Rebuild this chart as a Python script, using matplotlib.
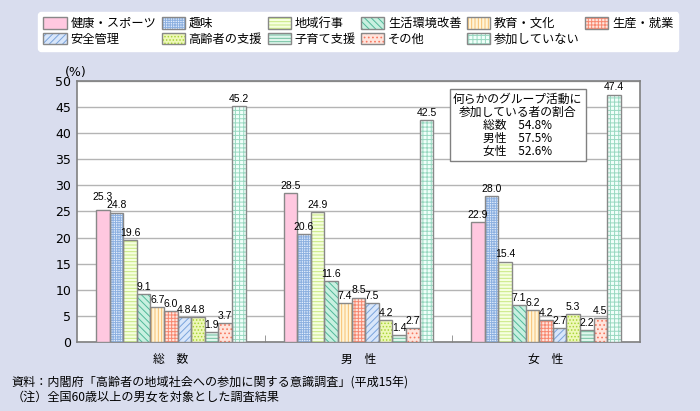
import numpy as np
import matplotlib.pyplot as plt
from matplotlib.patches import Patch
from matplotlib.legend_handler import HandlerTuple

plt.rcParams['font.family'] = ['Noto Sans CJK JP', 'DejaVu Sans']
plt.rcParams['hatch.linewidth'] = 0.7

groups = ['総　数', '男　性', '女　性']
categories = ['健康・スポーツ', '趣味', '地域行事', '生活環境改善', '教育・文化', '生産・就業',
              '安全管理', '高齢者の支援', '子育て支援', 'その他', '参加していない']
total = [25.3, 24.8, 19.6, 9.1, 6.7, 6.0, 4.8, 4.8, 1.9, 3.7, 45.2]
male = [28.5, 20.6, 24.9, 11.6, 7.4, 8.5, 7.5, 4.2, 1.4, 2.7, 42.5]
female = [22.9, 28.0, 15.4, 7.1, 6.2, 4.2, 2.7, 5.3, 2.2, 4.5, 47.4]
values = np.array([total, male, female])

# face colour, hatch colour, hatch pattern per category
faces = ['#ffc8e0', '#e4eefc', '#f6ffe0', '#c8f0e0', '#fff4d8', '#ffe4dc',
         '#d8e6fa', '#eef8b8', '#e0f6ec', '#ffe4dc', '#f0fffa']
hcols = ['#ffc8e0', '#8cb0e0', '#c8e880', '#50b898', '#f8c070', '#f88870',
         '#7aa4dc', '#a8d438', '#70c0a0', '#f87860', '#98d8c0']
hatches = [None, '+' * 7, '-' * 5, '\\' * 5, '|' * 5, '+' * 5, '/' * 5, '.' * 5,
           '-' * 5, '.' * 4, '+' * 4]

bg = '#d9ddee'
fig = plt.figure(figsize=(7, 4.11), dpi=100, facecolor=bg)
ax = fig.add_axes([0.110, 0.168, 0.804, 0.635])
ax.set_facecolor('white')

w = 0.0725
x = np.arange(len(groups))
handles = []
labels = [[] for _ in groups]
for j, cat in enumerate(categories):
    pos = x + (j - 5) * w
    ax.bar(pos, values[:, j], w, color=faces[j], edgecolor=hcols[j], hatch=hatches[j],
           linewidth=0, zorder=3)
    ax.bar(pos, values[:, j], w, fill=False, edgecolor='#888888', linewidth=1, zorder=4)
    for g, (xi, v) in enumerate(zip(pos, values[:, j])):
        t = ax.text(xi, v + 0.4, f'{v:.1f}', ha='center', va='bottom', fontsize=7.5,
                    family='Liberation Sans', zorder=5)
        labels[g].append(t)
    h1 = Patch(facecolor=faces[j], edgecolor=hcols[j], hatch=hatches[j], linewidth=0)
    h2 = Patch(fill=False, edgecolor='#888888', linewidth=1)
    handles.append((h1, h2))

ax.set_xlim(-0.5, 2.5)
ax.set_ylim(0, 50)

# lift a label above its right neighbour when the two clearly collide
fig.canvas.draw()
r = fig.canvas.get_renderer()
for row in labels:
    for a, b in zip(row[:-1], row[1:]):
        ba, bb = a.get_window_extent(r), b.get_window_extent(r)
        ox = min(ba.x1, bb.x1) - max(ba.x0, bb.x0)
        oy = min(ba.y1, bb.y1) - max(ba.y0, bb.y0)
        if ox > 2 and oy > 2:
            top_b = ax.transData.inverted().transform((0, bb.y1))[1]
            a.set_y(top_b - 0.3)

ax.set_yticks(np.arange(0, 51, 5))
ax.grid(axis='y', color='#b4b4b4', linewidth=1, zorder=0)
ax.set_axisbelow(True)
ax.set_xticks(x)
ax.set_xticklabels(groups, fontsize=8.5)
ax.set_xticks([0.5, 1.5], minor=True)
ax.tick_params(axis='x', which='major', length=0, pad=8)
ax.tick_params(axis='x', which='minor', direction='in', length=5, color='#888888')
ax.tick_params(axis='y', length=0, labelsize=9, pad=4)
for lab in ax.get_yticklabels():
    lab.set_family('DejaVu Sans')
for s in ax.spines.values():
    s.set_color('#808080')
    s.set_linewidth(1.2)

fig.text(0.093, 0.815, '(%)', fontsize=9, family='DejaVu Sans')

ax.text(0.783, 0.83,
        '何らかのグループ活動に\n参加している者の割合\n総数　54.8%\n男性　57.5%\n女性　52.6%',
        transform=ax.transAxes, ha='center', va='center', fontsize=8.5, linespacing=1.0,
        multialignment='center', zorder=6,
        bbox=dict(boxstyle='square,pad=0.3', facecolor='white', edgecolor='#808080', linewidth=1))

# legend filled column-wise -> reorder so it reads row-wise
order = [0, 6, 1, 7, 2, 8, 3, 9, 4, 10, 5]
leg = fig.legend([handles[i] for i in order], [categories[i] for i in order],
                 handler_map={tuple: HandlerTuple(ndivide=1)},
                 loc='upper center', bbox_to_anchor=(0.512, 0.985), ncol=6, fontsize=8.8,
                 frameon=True, fancybox=True, edgecolor='white', facecolor='white',
                 framealpha=1, handlelength=1.9, handleheight=1.1, handletextpad=0.3,
                 columnspacing=0.45, labelspacing=0.2, borderpad=0.4)

fig.text(0.017, 0.063, '資料：内閣府「高齢者の地域社会への参加に関する意識調査」(平成15年)', fontsize=8.7)
fig.text(0.017, 0.025, '（注）全国60歳以上の男女を対象とした調査結果', fontsize=8.7)

fig.savefig('out.png', dpi=100, facecolor=bg)
